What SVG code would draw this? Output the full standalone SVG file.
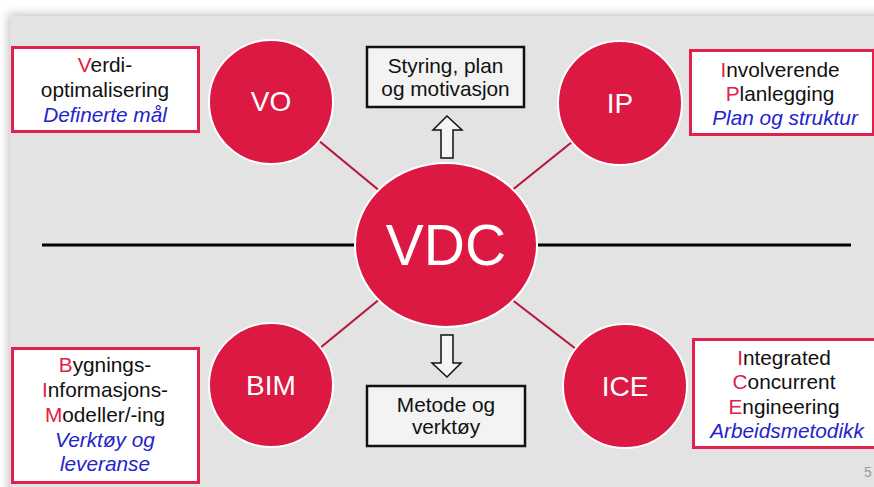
<svg xmlns="http://www.w3.org/2000/svg" width="874" height="487" viewBox="0 0 874 487">
<defs>
<filter id="sh" x="-10%" y="-10%" width="120%" height="120%">
<feGaussianBlur stdDeviation="5"/>
</filter>
<style>
.t{font-family:"Liberation Sans",Arial,sans-serif;font-size:20.8px;fill:#111;text-anchor:middle}
.r{fill:#e0214b}
.b{fill:#2323cc;font-style:italic}
.box{fill:#fff;stroke:#e0214b;stroke-width:3}
.gbox{fill:#f3f3f3;stroke:#111;stroke-width:2.5}
.circ{fill:#dc1943;stroke:#fff;stroke-width:2}
.cl{font-family:"Liberation Sans",Arial,sans-serif;font-size:28px;fill:#fff;text-anchor:middle}
.con{stroke:#b5183c;stroke-width:2.2;fill:none}
.hl{stroke:#000;stroke-width:3}
.arr{fill:#f5f5f5;stroke:#111;stroke-width:1.5}
</style>
</defs>
<rect width="874" height="487" fill="#fff"/>
<rect x="8" y="14" width="880" height="490" fill="#9a9a9a" filter="url(#sh)" opacity="0.6"/>
<rect x="10" y="16" width="870" height="480" fill="#e3e3e3"/>

<g id="connectors">
<line class="hl" x1="42" y1="245" x2="356" y2="245"/>
<line class="hl" x1="536" y1="245" x2="851" y2="245"/>
<line class="con" x1="318" y1="140" x2="381" y2="192"/>
<line class="con" x1="572" y1="142" x2="511" y2="191"/>
<line class="con" x1="381" y1="298" x2="320" y2="348"/>
<line class="con" x1="511" y1="299" x2="576" y2="349"/>
</g>

<g id="arrow-up">
<path class="arr" d="M441,158 L441,130 L433,130 L447,116 L462,130 L453,130 L453,158 Z"/>
</g>
<g id="arrow-down">
<path class="arr" d="M441,335 L441,363 L432,363 L447,377 L461,363 L453,363 L453,335 Z"/>
</g>

<g id="VDC">
<ellipse class="circ" cx="446" cy="245" rx="91" ry="82"/>
<text class="cl" x="446" y="265" style="font-size:57px">VDC</text>
</g>

<g id="VO">
<circle class="circ" cx="271" cy="102" r="62"/>
<text class="cl" x="271" y="111">VO</text>
</g>
<g id="IP">
<circle class="circ" cx="620" cy="103" r="62"/>
<text class="cl" x="620" y="113">IP</text>
</g>
<g id="BIM">
<circle class="circ" cx="271" cy="385" r="62"/>
<text class="cl" x="271" y="395">BIM</text>
</g>
<g id="ICE">
<circle class="circ" cx="625" cy="386" r="62"/>
<text class="cl" x="625" y="396">ICE</text>
</g>

<g id="box-VO">
<rect class="box" x="12.5" y="47.5" width="186" height="84"/>
<text class="t" x="105" y="72"><tspan class="r">V</tspan>erdi-</text>
<text class="t" x="105" y="97">optimalisering</text>
<text class="t b" x="105" y="122">Definerte mål</text>
</g>

<g id="box-IP">
<rect class="box" x="690.5" y="50.5" width="183" height="84"/>
<text class="t" x="780" y="77"><tspan class="r">I</tspan>nvolverende</text>
<text class="t" x="780" y="101"><tspan class="r">P</tspan>lanlegging</text>
<text class="t b" x="785" y="125">Plan og struktur</text>
</g>

<g id="box-BIM">
<rect class="box" x="12.5" y="348.5" width="186" height="134"/>
<text class="t" x="105" y="372"><tspan class="r">B</tspan>ygnings-</text>
<text class="t" x="105" y="397"><tspan class="r">I</tspan>nformasjons-</text>
<text class="t" x="105" y="422"><tspan class="r">M</tspan>odeller/-ing</text>
<text class="t b" x="105" y="447">Verktøy og</text>
<text class="t b" x="105" y="471">leveranse</text>
</g>

<g id="box-ICE">
<rect class="box" x="693.5" y="339.5" width="183" height="108"/>
<text class="t" x="784" y="365"><tspan class="r">I</tspan>ntegrated</text>
<text class="t" x="784" y="389"><tspan class="r">C</tspan>oncurrent</text>
<text class="t" x="784" y="414"><tspan class="r">E</tspan>ngineering</text>
<text class="t b" x="787" y="438">Arbeidsmetodikk</text>
</g>

<g id="box-styring">
<rect class="gbox" x="367" y="47" width="157" height="60"/>
<text class="t" x="445.5" y="73">Styring, plan</text>
<text class="t" x="445.5" y="96">og motivasjon</text>
</g>

<g id="box-metode">
<rect class="gbox" x="367" y="386" width="158" height="60"/>
<text class="t" x="446" y="412">Metode og</text>
<text class="t" x="446" y="434">verktøy</text>
</g>

<text x="864" y="477" style="font-family:'Liberation Sans',Arial,sans-serif;font-size:14px;fill:#9a9a9a">5</text>
</svg>
